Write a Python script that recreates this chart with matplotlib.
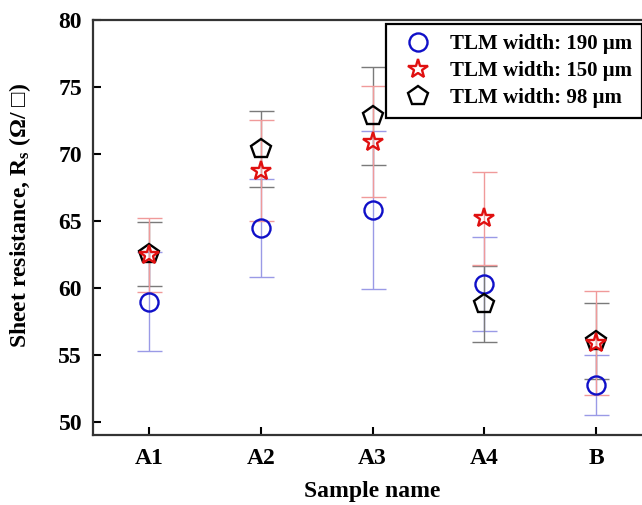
import numpy as np
import matplotlib
matplotlib.use("Agg")
import matplotlib.pyplot as plt

# Sheet resistance per sample for three TLM widths
samples = ["A1", "A2", "A3", "A4", "B"]

rs_190 = [58.96, 64.44, 65.81, 60.28, 52.74]
err_190 = [3.7, 3.66, 5.92, 3.54, 2.24]

rs_150 = [62.45, 68.75, 70.91, 65.19, 55.86]
err_150 = [2.75, 3.78, 4.16, 3.48, 3.9]

rs_98 = [62.5, 70.37, 72.83, 58.79, 56.05]
err_98 = [2.4, 2.86, 3.68, 2.81, 2.84]

labels = ["TLM width: 190 \u03bcm", "TLM width: 150 \u03bcm", "TLM width: 98 \u03bcm"]

plt.rcParams["font.family"] = ["Liberation Serif", "DejaVu Serif"]
plt.rcParams["font.weight"] = "bold"
plt.rcParams["mathtext.fontset"] = "custom"
plt.rcParams["mathtext.rm"] = "Liberation Serif:bold"
plt.rcParams["mathtext.bf"] = "Liberation Serif:bold"
plt.rcParams["mathtext.it"] = "Liberation Serif:bold"

fig = plt.figure(figsize=(6.42, 5.05), dpi=100)
ax = fig.add_axes([0.1453, 0.1386, 0.870, 0.8218])

x = np.arange(1, len(samples) + 1)

# blue circles
ax.errorbar(x, rs_190, yerr=err_190, fmt="none", ecolor="#9a9ae6",
            elinewidth=1.0, capsize=9, capthick=1.0, zorder=2)
h1, = ax.plot(x, rs_190, "o", ms=13, mfc="none", mec="#1010c8", mew=1.7,
              ls="none", zorder=5)

# black pentagons
ax.errorbar(x, rs_98, yerr=err_98, fmt="none", ecolor="#7a7a7a",
            elinewidth=1.0, capsize=9, capthick=1.0, zorder=2)
h3, = ax.plot(x, rs_98, "p", ms=14.5, mfc="none", mec="black", mew=1.7,
              ls="none", zorder=5)

# red stars
ax.errorbar(x, rs_150, yerr=err_150, fmt="none", ecolor="#f09a9a",
            elinewidth=1.0, capsize=9, capthick=1.0, zorder=2)
h2, = ax.plot(x, rs_150, "*", ms=15, mfc="none", mec="#e01010", mew=1.7,
              ls="none", zorder=6)

ax.set_xlim(0.5, 5.5)
ax.set_ylim(49, 80)
ax.set_xticks(x)
ax.set_xticklabels(samples)
ax.set_yticks([50, 55, 60, 65, 70, 75, 80])

ax.tick_params(direction="in", length=6, width=1.5, labelsize=17,
               top=False, right=False)
ax.tick_params(axis="y", pad=8)
ax.tick_params(axis="x", pad=9)
for lab in ax.get_xticklabels() + ax.get_yticklabels():
    lab.set_fontweight("bold")
for sp in ax.spines.values():
    sp.set_linewidth(1.6)
    sp.set_color("#333333")

ax.set_xlabel("Sample name", fontsize=17, fontweight="bold", labelpad=9)
ax.set_ylabel("Sheet resistance, R$_\\mathregular{s}$ (\u03a9/ \u25a1)",
              fontsize=17, fontweight="bold")
ax.yaxis.set_label_coords(-0.108, 0.53)

leg = ax.legend([h1, h2, h3], labels, loc="upper left",
                bbox_to_anchor=(0.524, 0.99), fontsize=15, frameon=True,
                fancybox=False, edgecolor="black", framealpha=1,
                handlelength=2.1, handletextpad=0.48, borderpad=0.48,
                labelspacing=0.33, borderaxespad=0)
leg.get_frame().set_linewidth(1.6)
for t in leg.get_texts():
    t.set_fontweight("bold")

fig.savefig("out.png", dpi=100)
